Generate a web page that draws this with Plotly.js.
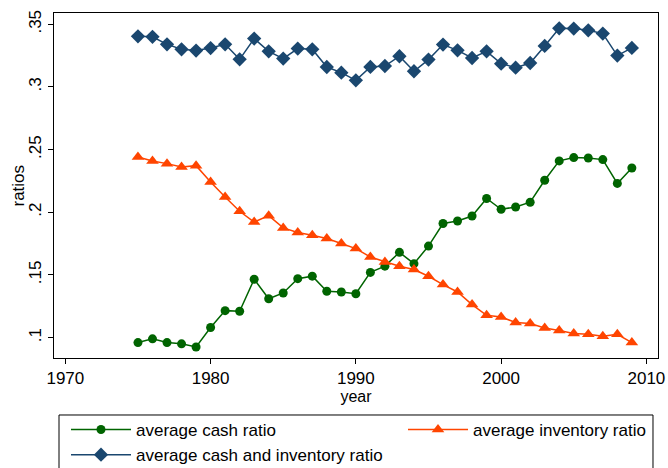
<!DOCTYPE html>
<html>
<head>
<meta charset="utf-8">
<script src="https://cdn.plot.ly/plotly-3.0.1.min.js"></script>
<style>
  html, body { margin: 0; padding: 0; background: #fff; }
  #chart { width: 668px; height: 468px; }
</style>
</head>
<body>
<div id="chart"></div>
<script>
// Firm-level averages by year
const years = [1975, 1976, 1977, 1978, 1979, 1980, 1981, 1982, 1983, 1984,
               1985, 1986, 1987, 1988, 1989, 1990, 1991, 1992, 1993, 1994,
               1995, 1996, 1997, 1998, 1999, 2000, 2001, 2002, 2003, 2004,
               2005, 2006, 2007, 2008, 2009];

const cashRatio = [0.096, 0.099, 0.096, 0.095, 0.0925, 0.108, 0.1215, 0.121, 0.1465, 0.131,
                   0.1356, 0.147, 0.149, 0.137, 0.1364, 0.135, 0.152, 0.157, 0.168, 0.159,
                   0.173, 0.191, 0.193, 0.197, 0.211, 0.2024, 0.2042, 0.208, 0.2255, 0.241,
                   0.2436, 0.2433, 0.242, 0.223, 0.2353];

const inventoryRatio = [0.2441, 0.2409, 0.2388, 0.2361, 0.2372, 0.2242, 0.2122, 0.2008, 0.1922, 0.1973,
                        0.1875, 0.1838, 0.1816, 0.179, 0.175, 0.171, 0.1643, 0.1603, 0.1569, 0.1543,
                        0.1489, 0.1423, 0.1364, 0.1263, 0.1178, 0.1164, 0.112, 0.1112, 0.1077, 0.1056,
                        0.1032, 0.1026, 0.101, 0.1026, 0.096];

const cashInventoryRatio = [0.3404, 0.340, 0.334, 0.330, 0.329, 0.331, 0.334, 0.322, 0.3386, 0.3284,
                            0.3226, 0.3306, 0.330, 0.3159, 0.3114, 0.3053, 0.316, 0.3167, 0.3245, 0.3125,
                            0.3218, 0.3338, 0.3292, 0.3231, 0.3284, 0.3186, 0.3154, 0.3191, 0.3327, 0.3468,
                            0.3466, 0.3452, 0.3426, 0.325, 0.3311];

const xTicks = [1970, 1980, 1990, 2000, 2010];
const yTicks = [0.1, 0.15, 0.2, 0.25, 0.3, 0.35];
const yTickText = ['.1', '.15', '.2', '.25', '.3', '.35'];

const FONT = 'Liberation Sans, Arial, Helvetica, sans-serif';

// Two legend groups laid out as columns; a shared frame is drawn as a shape
const traces = [
  {
    x: years, y: cashRatio, name: 'average cash ratio', legend: 'legend',
    type: 'scatter', mode: 'lines+markers',
    line: { color: '#006400', width: 1.5 },
    marker: { color: '#006400', symbol: 'circle', size: 9 }
  },
  {
    x: years, y: inventoryRatio, name: 'average inventory ratio', legend: 'legend2',
    type: 'scatter', mode: 'lines+markers',
    line: { color: '#ff4500', width: 1.5 },
    marker: { color: '#ff4500', symbol: 'triangle-up', size: 11 }
  },
  {
    x: years, y: cashInventoryRatio, name: 'average cash and inventory ratio', legend: 'legend',
    type: 'scatter', mode: 'lines+markers',
    line: { color: '#1a476f', width: 1.5 },
    marker: { color: '#1a476f', symbol: 'diamond', size: 11 }
  }
];

const legendBase = {
  orientation: 'v',
  xref: 'container', yref: 'container',
  xanchor: 'left', yanchor: 'top',
  borderwidth: 0,
  bgcolor: 'rgba(0,0,0,0)',
  font: { family: FONT, size: 17, color: '#000' },
  itemwidth: 60,
  tracegroupgap: 0
};

const layout = {
  width: 668, height: 468,
  paper_bgcolor: '#ffffff', plot_bgcolor: '#ffffff',
  font: { family: FONT, size: 17, color: '#000' },
  margin: { l: 54, r: 10, t: 13, b: 110, autoexpand: false },
  showlegend: true,
  legend: Object.assign({}, legendBase, { x: 0.0988, y: 0.1197 }),
  legend2: Object.assign({}, legendBase, { x: 0.6033, y: 0.1197 }),
  shapes: [{
    type: 'rect', xref: 'paper', yref: 'paper',
    x0: 0.00828, x1: 0.9917, y0: -0.33, y1: -0.1652,
    line: { color: '#000', width: 1 },
    fillcolor: 'rgba(0,0,0,0)'
  }],
  // y-axis title, placed beside the rotated tick labels
  annotations: [{
    text: 'ratios', xref: 'paper', yref: 'paper',
    x: -0.0596, y: 0.5, xanchor: 'center', yanchor: 'middle',
    textangle: -90, showarrow: false,
    font: { family: FONT, size: 17, color: '#000' }
  }],
  xaxis: {
    range: [1969.22, 2010.8],
    tickvals: xTicks,
    ticks: 'outside', ticklen: 5, tickwidth: 1, tickcolor: '#000',
    tickfont: { family: FONT, size: 17, color: '#000' },
    showgrid: false, zeroline: false,
    showline: true, linecolor: '#000', linewidth: 1, mirror: true,
    title: { text: 'year', font: { family: FONT, size: 16, color: '#000' }, standoff: 0 }
  },
  yaxis: {
    range: [0.0837, 0.359],
    tickvals: yTicks, ticktext: yTickText,
    tickangle: -90,
    ticks: 'outside', ticklen: 5, tickwidth: 1, tickcolor: '#000',
    tickfont: { family: FONT, size: 17, color: '#000' },
    showgrid: false, zeroline: false,
    showline: true, linecolor: '#000', linewidth: 1, mirror: true
  }
};

Plotly.newPlot('chart', traces, layout, { displayModeBar: false, staticPlot: true });
</script>
</body>
</html>
